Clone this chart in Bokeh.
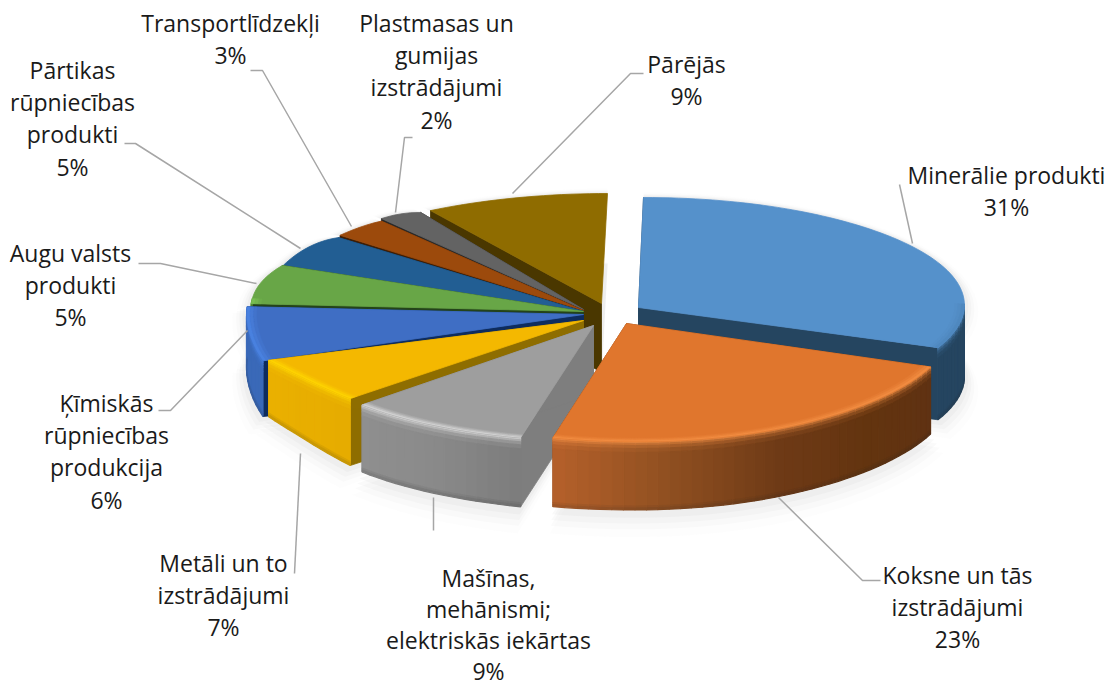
import math
import numpy as np
from bokeh.plotting import figure
from bokeh.models import ColumnDataSource, Range1d
from bokeh.core.properties import value
from bokeh.embed import file_html
from bokeh.resources import INLINE

# ---- data ----
categories = ["Minerālie produkti", "Koksne un tās izstrādājumi", "Mašīnas, mehānismi; elektriskās iekārtas",
              "Metāli un to izstrādājumi", "Ķīmiskās rūpniecības produkcija", "Augu valsts produkti",
              "Pārtikas rūpniecības produkti", "Transportlīdzekļi", "Plastmasas un gumijas izstrādājumi", "Pārējās"]
shares = [31, 23, 9, 7, 6, 5, 5, 3, 2, 9]

# ---- styling / layout ----
label_lines = [["Minerālie produkti"], ["Koksne un tās", "izstrādājumi"], ["Mašīnas,", "mehānismi;", "elektriskās iekārtas"],
               ["Metāli un to", "izstrādājumi"], ["Ķīmiskās", "rūpniecības", "produkcija"], ["Augu valsts", "produkti"],
               ["Pārtikas", "rūpniecības", "produkti"], ["Transportlīdzekļi"], ["Plastmasas un", "gumijas", "izstrādājumi"], ["Pārējās"]]
label_x = [1006, 957, 488, 223, 106, 70, 72, 230, 436, 686]
label_y = [174, 574, 577, 562, 402, 252, 69, 22, 22, 63]
line_steps = [32.4, 32.4, 31.2, 32.4, 32.4, 32.4, 32.4, 32.4, 32.4, 32.4]
leaders = [[(899, 184), (912, 243)], [(778, 497), (862, 580), (880, 580)], [(433, 497), (433, 530)],
           [(300, 453), (294, 573)], [(247, 330), (170, 410), (158, 410)], [(256, 283), (160, 263), (138, 263)],
           [(300, 248), (135, 143), (124, 143)], [(351, 226), (262, 70), (250, 70)], [(395, 212), (404, 137), (412, 137)],
           [(512, 193), (630, 73), (643, 73)]]

cx, cy = 583, 314
# per-slice centre shift and radii of the tilted disc (at the slice's first and last angle)
off_x = [55, 43, 10, 0, 0, 0, 0, 0, 0, 18]
off_y = [-7, 9, 11, 6, 0, -3, -3, -4, -5, -11]
rx_a = [330, 327, 318, 320, 337, 333, 323, 316, 317, 322]
rx_b = [322, 327, 318, 331, 337, 324, 318, 317, 304, 322]
ry_a = [110, 118, 116, 114, 150, 125, 125, 118, 118, 110]
ry_b = [109, 118, 116, 129, 124, 125, 116, 116, 115, 110]
lean = [5, 10, 8, 0, 0, 0, 0, 0, 0, 6]
extra_depth = [5, 0, 0, 0, 0, 0, 0, 0, 0, 0]
tops = ["#5591CB", "#E0762D", "#9E9E9E", "#F4B800", "#3F6EC4", "#68A647", "#225E93", "#9C4A0C", "#636363", "#8F6C00"]
rims = ["#4E86BC", "#F49045", "#DDDDDD", "#FFD800", "#4C86E6", "#7CC455", "#2A6FAE", "#B9590F", "#757575", "#A57D00"]
cuts = ["#254560", "#7A4018", "#7E7E7E", "#8E6D00", "#0E2C5E", "#24431A", "#0C2A45", "#3E1E05", "#2A2A2A", "#4A3700"]
wall_stops = [["#254560", "#254560"], ["#5F3213", "#63340F", "#6E3A16", "#8E4F20", "#B5602A"], ["#7C7C7C", "#8A8A8A", "#8F8F8F"],
              ["#E6AC00", "#EAB000"], ["#3A69B8", "#3A69B8"], ["#3E6A2A", "#3E6A2A"], ["#1A4870", "#1A4870"],
              ["#6E350A", "#6E350A"], ["#444444", "#444444"], ["#5A4400", "#5A4400"]]
paint_order = [9, 0, 8, 7, 6, 5, 4, 3, 2, 1]


def rgb(h):
    return np.array([int(h[i:i + 2], 16) for i in (1, 3, 5)], float)


def mix(a, b, t):
    c = rgb(a) * (1 - t) + rgb(b) * t
    return "#%02x%02x%02x" % tuple(int(round(v)) for v in c)


def stop_color(stops, t):
    pos = t * (len(stops) - 1)
    i = min(int(pos), len(stops) - 2)
    return mix(stops[i], stops[i + 1], pos - i)


def depth(i, x):
    return float(np.interp(x, [246, 265, 350, 520, 970], [54, 56, 67, 69, 67])) + extra_depth[i]


edges = np.cumsum([0] + shares) * 3.6


def pt(i, a, r=1.0):
    t = math.radians(a)
    c = math.cos(t)
    u = ((a - edges[i]) / (edges[i + 1] - edges[i])) ** 3
    rx = rx_a[i] + (rx_b[i] - rx_a[i]) * u
    ry = ry_a[i] + (ry_b[i] - ry_a[i]) * u
    return (cx + off_x[i] + r * rx * math.sin(t) + r * lean[i] * abs(c) ** 8,
            cy + off_y[i] - r * ry * c)


xs, ys, fc, fa, lw = [], [], [], [], []


def add(poly, color, alpha=1.0, width=0.8):
    xs.append([q[0] for q in poly])
    ys.append([q[1] for q in poly])
    fc.append(color)
    fa.append(alpha)
    lw.append(width)


# soft shadow beneath the slices
for i in paint_order:
    a0, a1 = edges[i], edges[i + 1]
    arc = np.linspace(a0, a1, 40)
    centre = pt(i, 0, 0)
    outline = [centre] + [pt(i, a) for a in arc]
    low = [(q[0], q[1] + depth(i, q[0])) for q in outline]
    for grow, alpha in ((14, 0.02), (10, 0.03), (7, 0.04), (4, 0.05)):
        for pts in (outline, low):
            add([(centre[0] + (q[0] - centre[0]) * (1 + grow / 330), centre[1] + (q[1] - centre[1]) * (1 + grow / 130) + grow * 0.5)
                 for q in pts], "#808080", alpha, 0)

for i in paint_order:
    a0, a1 = edges[i], edges[i + 1]
    c = pt(i, 0, 0)
    dc = depth(i, c[0])
    # radial cut faces
    for a, keep in ((a0, True), (a1, a1 < 359)):
        if not keep:
            continue
        e = pt(i, a)
        add([c, e, (e[0], e[1] + depth(i, e[0])), (c[0], c[1] + dc)], cuts[i])
    # outer wall, only on the near half
    w0, w1 = max(a0, 88), min(a1, 276)
    if w1 > w0:
        n = max(2, int((w1 - w0) / 2))
        angs = np.linspace(w0, w1, n + 1)
        for k in range(n):
            p0, p1 = pt(i, angs[k]), pt(i, angs[k + 1])
            d0, d1 = depth(i, p0[0]), depth(i, p1[0])
            base = stop_color(wall_stops[i], (k + 0.5) / n)
            bands = [(0, 2, 0.2), (2, 4, 0.5), (4, 7, 0.75), (7, 11, 0.92), (11, None, 1.0), (-4, -2, 0.93), (-2, 0, 0.85)]
            for b0, b1, m in bands:
                if b0 < 0:
                    t0a, t0b = d0 + b0, d1 + b0
                    t1a, t1b = d0 + b1, d1 + b1
                    col = mix("#202020", base, m)
                else:
                    t0a, t0b = b0, b0
                    t1a = d0 - 4 if b1 is None else b1
                    t1b = d1 - 4 if b1 is None else b1
                    col = mix(rims[i], base, m)
                add([(p0[0], p0[1] + t0a), (p1[0], p1[1] + t0b), (p1[0], p1[1] + t1b), (p0[0], p0[1] + t1a)], col, 1.0, 1.2)
    # top face
    arc = np.linspace(a0, a1, max(6, int((a1 - a0) / 1.5)))
    add([c] + [pt(i, a) for a in arc], tops[i])
    # bright bevel along the near rim
    if w1 > w0:
        n = max(2, int((w1 - w0) / 2))
        angs = np.linspace(w0, w1, n + 1)
        for r0, r1, m in ((0.97, 0.98, 0.2), (0.98, 0.99, 0.5), (0.99, 1.0, 0.8)):
            col = mix(tops[i], rims[i], m)
            add([pt(i, a, r0) for a in angs] + [pt(i, a, r1) for a in angs[::-1]], col, 1.0, 0.3)

src = ColumnDataSource(dict(xs=xs, ys=ys, fc=fc, fa=fa, lw=lw))

p = figure(width=1109, height=688, x_range=Range1d(0, 1109), y_range=Range1d(688, 0),
           toolbar_location=None, output_backend="svg", min_border=0, outline_line_color=None)
p.axis.visible = False
p.grid.visible = False
p.background_fill_color = "#FFFFFF"
p.patches("xs", "ys", source=src, fill_color="fc", fill_alpha="fa", line_color="fc", line_alpha="fa", line_width="lw")

p.multi_line([[q[0] for q in l] for l in leaders], [[q[1] for q in l] for l in leaders], line_color="#A6A6A6", line_width=1.5)

tx, ty, tt = [], [], []
for i, lines in enumerate(label_lines):
    rows = lines + ["%d%%" % shares[i]]
    for k, row in enumerate(rows):
        tx.append(label_x[i])
        ty.append(label_y[i] + k * line_steps[i])
        tt.append(row)
p.text(tx, ty, text=tt, text_font=value("Open Sans"), text_font_size="23px", text_color="#1A1A1A",
       text_align="center", text_baseline="middle")

open("out.html", "w").write(file_html(p, INLINE))
